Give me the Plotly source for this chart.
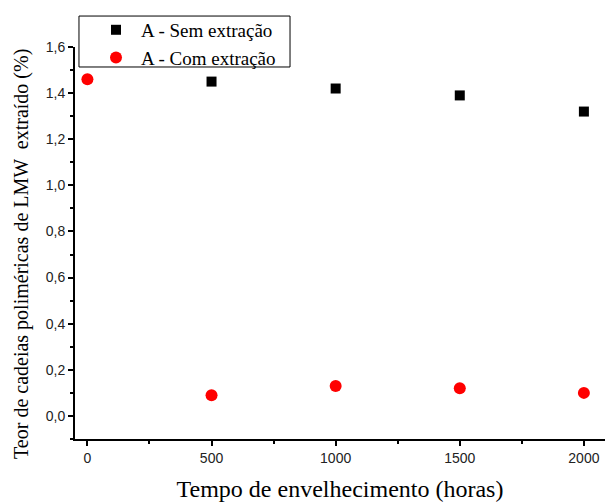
import plotly.graph_objects as go

hours_sem = [500, 1000, 1500, 2000]
sem_extracao = [1.45, 1.42, 1.39, 1.32]
hours_com = [0, 500, 1000, 1500, 2000]
com_extracao = [1.46, 0.09, 0.13, 0.12, 0.10]
x_ticks = [0, 500, 1000, 1500, 2000]
y_ticks = [0.0, 0.2, 0.4, 0.6, 0.8, 1.0, 1.2, 1.4, 1.6]

fig = go.Figure()
fig.add_trace(go.Scatter(x=hours_sem, y=sem_extracao, mode="markers", name="A - Sem extração",
                         marker=dict(symbol="square", size=10, color="black")))
fig.add_trace(go.Scatter(x=hours_com, y=com_extracao, mode="markers", name="A - Com extração",
                         marker=dict(symbol="circle", size=12, color="#ff0000")))

axis_common = dict(showline=True, linecolor="black", linewidth=2, ticks="outside",
                   ticklen=5, tickwidth=1.5, tickcolor="black", showgrid=False, zeroline=False,
                   automargin=False,
                   tickfont=dict(family="Liberation Sans, Arial", size=14, color="#222"))

fig.update_xaxes(range=[-50, 2085], tickvals=x_ticks,
                 minor=dict(ticks="outside", ticklen=3, tickwidth=1.5, tickcolor="black", dtick=250, tick0=0),
                 title=dict(text="Tempo de envelhecimento (horas)",
                            font=dict(family="Liberation Serif, Times New Roman", size=24, color="black"),
                            standoff=16),
                 **axis_common)
fig.update_yaxes(range=[-0.1, 1.6], tickvals=y_ticks, tickformat=".1f",
                 minor=dict(ticks="outside", ticklen=3, tickwidth=1.5, tickcolor="black", dtick=0.1, tick0=0.1),
                 **axis_common)

fig.add_annotation(text="Teor de cadeias poliméricas de LMW  extraído (%)",
                   xref="paper", yref="paper", x=-0.1, y=0.472, textangle=-90,
                   xanchor="center", yanchor="middle", showarrow=False,
                   font=dict(family="Liberation Serif, Times New Roman", size=20, color="black"))

# legend frame
fig.add_shape(type="rect", xref="paper", yref="paper",
              x0=0.0075, x1=0.4057, y0=0.949, y1=1.079,
              line=dict(color="black", width=1), fillcolor="rgba(0,0,0,0)")

fig.update_layout(
    width=605, height=502,
    margin=dict(l=75, r=0, t=47, b=63, autoexpand=False),
    plot_bgcolor="white", paper_bgcolor="white",
    separators=",.",
    showlegend=True,
    legend=dict(x=0.0302, y=1.092, xanchor="left", yanchor="top",
                borderwidth=0, bgcolor="rgba(0,0,0,0)",
                font=dict(family="Liberation Serif, Times New Roman", size=19, color="black"),
                itemwidth=40, tracegroupgap=0),
)

fig.write_html("out.html", config={"displayModeBar": False},
               post_script="document.body.style.margin='0';")
